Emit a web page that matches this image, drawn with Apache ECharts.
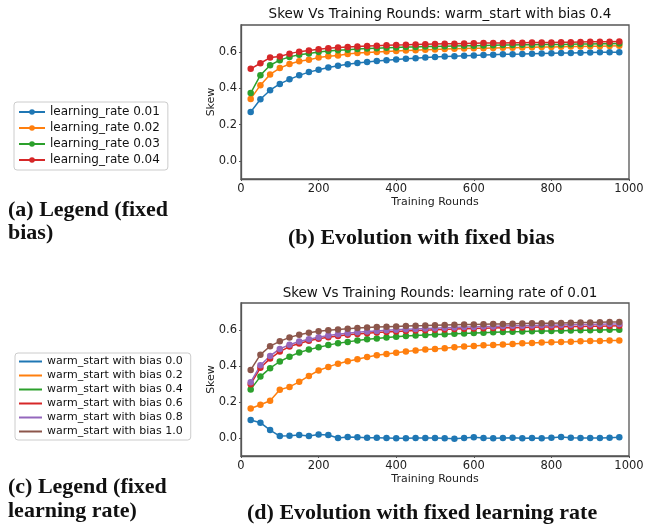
<!DOCTYPE html>
<html lang="en">
  <head>
    <meta charset="UTF-8" />
    <title>Skew Vs Training Rounds</title>
    <style>
      * {
        margin: 0;
        padding: 0;
      }
      html,
      body {
        width: 100%;
        height: 100%;
        background: #fff;
      }
      #chart {
        width: 655px;
        height: 525px;
      }
    </style>
    <script src="https://cdn.jsdelivr.net/npm/echarts@6/dist/echarts.min.js"></script>
  </head>
  <body>
    <div id="chart"></div>
    <script>
      // training rounds on the x axis
      var rounds = [
        25, 50, 75, 100, 125, 150, 175, 200, 225, 250, 275, 300, 325, 350, 375,
        400, 425, 450, 475, 500, 525, 550, 575, 600, 625, 650, 675, 700, 725,
        750, 775, 800, 825, 850, 875, 900, 925, 950, 975,
      ];
      var yTicks = [0, 0.2, 0.4, 0.6];

      // (b) fixed bias 0.4, varying learning rate
      var lrNames = [
        "learning_rate 0.01",
        "learning_rate 0.02",
        "learning_rate 0.03",
        "learning_rate 0.04",
      ];
      var lr001 = [
        0.27, 0.34, 0.39, 0.425, 0.45, 0.472, 0.49, 0.503, 0.515, 0.525, 0.533,
        0.54, 0.546, 0.551, 0.556, 0.56, 0.564, 0.567, 0.57, 0.573, 0.576,
        0.578, 0.58, 0.582, 0.584, 0.586, 0.588, 0.589, 0.59, 0.592, 0.593,
        0.594, 0.595, 0.596, 0.597, 0.598, 0.599, 0.6, 0.6,
      ];
      var lr002 = [
        0.342, 0.418, 0.477, 0.512, 0.535, 0.55, 0.558, 0.57, 0.577, 0.582,
        0.59, 0.595, 0.598, 0.601, 0.604, 0.607, 0.609, 0.611, 0.613, 0.615,
        0.617, 0.619, 0.62, 0.621, 0.622, 0.623, 0.624, 0.625, 0.626, 0.627,
        0.628, 0.629, 0.63, 0.631, 0.632, 0.633, 0.633, 0.634, 0.635,
      ];
      var lr003 = [
        0.374, 0.473, 0.528, 0.556, 0.574, 0.586, 0.593, 0.601, 0.606, 0.61,
        0.614, 0.617, 0.62, 0.622, 0.624, 0.626, 0.628, 0.629, 0.631, 0.632,
        0.633, 0.634, 0.635, 0.636, 0.637, 0.638, 0.639, 0.64, 0.641, 0.641,
        0.642, 0.643, 0.643, 0.644, 0.645, 0.645, 0.646, 0.647, 0.648,
      ];
      var lr004 = [
        0.508, 0.539, 0.57, 0.576, 0.592, 0.603, 0.609, 0.616, 0.622, 0.626,
        0.629, 0.632, 0.634, 0.636, 0.638, 0.64, 0.641, 0.643, 0.644, 0.645,
        0.646, 0.647, 0.648, 0.649, 0.65, 0.65, 0.651, 0.652, 0.652, 0.653,
        0.654, 0.654, 0.655, 0.655, 0.656, 0.657, 0.657, 0.658, 0.659,
      ];

      // (d) fixed learning rate 0.01, varying warm start bias
      var biasNames = [
        "warm_start with bias 0.0",
        "warm_start with bias 0.2",
        "warm_start with bias 0.4",
        "warm_start with bias 0.6",
        "warm_start with bias 0.8",
        "warm_start with bias 1.0",
      ];
      var bias00 = [
        0.1, 0.085, 0.044, 0.011, 0.013, 0.017, 0.011, 0.02, 0.017, 0.0, 0.005,
        0.004, 0.002, 0.002, 0.0, -0.002, -0.002, 0.0, 0.0, 0.0, -0.002,
        -0.004, 0.0, 0.004, 0.0, -0.002, 0.0, 0.002, -0.002, 0.0, -0.002,
        0.002, 0.006, 0.002, 0.0, 0.0, 0.0, 0.002, 0.004,
      ];
      var bias02 = [
        0.164, 0.185, 0.207, 0.268, 0.284, 0.312, 0.345, 0.375, 0.395, 0.413,
        0.426, 0.437, 0.45, 0.46, 0.467, 0.473, 0.48, 0.486, 0.491, 0.495,
        0.498, 0.504, 0.508, 0.511, 0.515, 0.517, 0.52, 0.522, 0.526, 0.528,
        0.53, 0.532, 0.534, 0.535, 0.537, 0.539, 0.539, 0.541, 0.541,
      ];
      var bias04 = [
        0.27, 0.341, 0.388, 0.425, 0.452, 0.475, 0.491, 0.504, 0.516, 0.527,
        0.534, 0.542, 0.548, 0.553, 0.558, 0.562, 0.566, 0.569, 0.572, 0.575,
        0.577, 0.579, 0.581, 0.583, 0.585, 0.587, 0.589, 0.59, 0.591, 0.593,
        0.594, 0.595, 0.596, 0.597, 0.598, 0.599, 0.6, 0.601, 0.602,
      ];
      var bias06 = [
        0.299, 0.39, 0.441, 0.48, 0.508, 0.525, 0.54, 0.551, 0.56, 0.567,
        0.573, 0.578, 0.582, 0.586, 0.589, 0.592, 0.595, 0.597, 0.599, 0.601,
        0.603, 0.605, 0.607, 0.608, 0.61, 0.611, 0.612, 0.613, 0.614, 0.615,
        0.616, 0.617, 0.618, 0.619, 0.62, 0.621, 0.621, 0.622, 0.623,
      ];
      var bias08 = [
        0.31, 0.404, 0.456, 0.495, 0.518, 0.536, 0.549, 0.56, 0.569, 0.576,
        0.582, 0.587, 0.591, 0.595, 0.598, 0.601, 0.604, 0.606, 0.608, 0.61,
        0.612, 0.614, 0.616, 0.617, 0.619, 0.62, 0.622, 0.623, 0.624, 0.625,
        0.626, 0.627, 0.628, 0.629, 0.63, 0.631, 0.632, 0.633, 0.634,
      ];
      var bias10 = [
        0.378, 0.463, 0.51, 0.537, 0.559, 0.574, 0.585, 0.593, 0.598, 0.603,
        0.607, 0.611, 0.614, 0.616, 0.618, 0.62, 0.622, 0.624, 0.625, 0.627,
        0.628, 0.629, 0.63, 0.631, 0.632, 0.633, 0.634, 0.635, 0.636, 0.637,
        0.637, 0.638, 0.639, 0.64, 0.641, 0.642, 0.643, 0.644, 0.645,
      ];

      // matplotlib tab10
      var colors = ["#1f77b4", "#ff7f0e", "#2ca02c", "#d62728", "#9467bd", "#8c564b"];
      var sans = "DejaVu Sans";
      var serif = "Liberation Serif";
      var frame = "#555";

      var pairs = function (ys) {
        return rounds.map(function (x, i) {
          return [x, ys[i]];
        });
      };

      var makeSeries = function (name, ys, idx, color) {
        return {
          name: name,
          type: "line",
          xAxisIndex: idx,
          yAxisIndex: idx,
          data: pairs(ys),
          color: color,
          symbol: "circle",
          symbolSize: 6.5,
          lineStyle: { width: 1.5 },
          itemStyle: { borderWidth: 0 },
          emphasis: { disabled: true },
          z: 3,
        };
      };

      var xAxis = function (idx) {
        return {
          type: "value",
          gridIndex: idx,
          min: 0,
          max: 1000,
          interval: 200,
          name: "Training Rounds",
          nameLocation: "middle",
          nameGap: 18,
          nameMoveOverlap: false,
          nameTextStyle: { fontFamily: sans, fontSize: 11, color: "#222" },
          axisLine: { show: true, onZero: false, lineStyle: { color: frame, width: 1.3 } },
          axisTick: { show: true, length: 2, lineStyle: { color: frame } },
          axisLabel: {
            fontFamily: sans,
            fontSize: 11.5,
            color: "#222",
            margin: 4,
            formatter: function (v) {
              return String(v);
            },
          },
          splitLine: { show: false },
        };
      };

      var yAxis = function (idx) {
        return {
          type: "value",
          gridIndex: idx,
          min: -0.1,
          max: 0.75,
          name: "Skew",
          nameLocation: "middle",
          nameGap: 24,
          nameMoveOverlap: false,
          nameRotate: 90,
          nameTextStyle: { fontFamily: sans, fontSize: 11, color: "#222" },
          axisLine: { show: true, onZero: false, lineStyle: { color: frame, width: 1.3 } },
          axisTick: {
            show: true,
            length: 2,
            customValues: yTicks,
            lineStyle: { color: frame },
          },
          axisLabel: {
            fontFamily: sans,
            fontSize: 11.5,
            color: "#222",
            margin: 4,
            customValues: yTicks,
            formatter: function (v) {
              return v.toFixed(1);
            },
          },
          splitLine: { show: false },
        };
      };

      var topData = [lr001, lr002, lr003, lr004];
      var bottomData = [bias00, bias02, bias04, bias06, bias08, bias10];
      var series = [];
      topData.forEach(function (ys, i) {
        series.push(makeSeries(lrNames[i], ys, 0, colors[i]));
      });
      bottomData.forEach(function (ys, i) {
        series.push(makeSeries(biasNames[i], ys, 1, colors[i]));
      });

      var option = {
        animation: false,
        backgroundColor: "#fff",
        title: [
          {
            text: "Skew Vs Training Rounds: warm_start with bias 0.4",
            left: 435,
            top: 2,
            textAlign: "center",
            textStyle: { fontFamily: sans, fontSize: 13.5, fontWeight: "normal", color: "#111" },
          },
          {
            text: "Skew Vs Training Rounds: learning rate of 0.01",
            left: 435,
            top: 281,
            textAlign: "center",
            textStyle: { fontFamily: sans, fontSize: 13.5, fontWeight: "normal", color: "#111" },
          },
        ],
        legend: [
          {
            data: lrNames,
            orient: "vertical",
            left: 14,
            top: 102,
            itemWidth: 26,
            itemHeight: 7,
            itemGap: 4,
            padding: [4, 8, 4, 4],
            borderColor: "#ccc",
            borderWidth: 1,
            borderRadius: 3,
            textStyle: { fontFamily: sans, fontSize: 12, color: "#111" },
          },
          {
            data: biasNames,
            orient: "vertical",
            left: 15,
            top: 353,
            icon: "rect",
            itemWidth: 23,
            itemHeight: 2,
            itemGap: 3,
            padding: [3, 8, 3, 4],
            borderColor: "#ccc",
            borderWidth: 1,
            borderRadius: 3,
            textStyle: { fontFamily: sans, fontSize: 11, color: "#111" },
          },
        ],
        grid: [
          {
            left: 241,
            top: 25,
            width: 388,
            height: 154,
            show: true,
            borderColor: frame,
            borderWidth: 1.3,
            backgroundColor: "transparent",
          },
          {
            left: 241,
            top: 303,
            width: 388,
            height: 153,
            show: true,
            borderColor: frame,
            borderWidth: 1.3,
            backgroundColor: "transparent",
          },
        ],
        xAxis: [xAxis(0), xAxis(1)],
        yAxis: [yAxis(0), yAxis(1)],
        graphic: [
          {
            type: "text",
            left: 8,
            top: 199,
            style: {
              text: "(a) Legend (fixed\nbias)",
              font: "bold 22px " + serif,
              lineHeight: 23,
              fill: "#111",
            },
          },
          {
            type: "text",
            left: 8,
            top: 475,
            style: {
              text: "(c) Legend (fixed\nlearning rate)",
              font: "bold 22px " + serif,
              lineHeight: 24,
              fill: "#111",
            },
          },
          {
            type: "text",
            left: 288,
            top: 227,
            style: {
              text: "(b) Evolution with fixed bias",
              font: "bold 22px " + serif,
              fill: "#111",
            },
          },
          {
            type: "text",
            left: 247,
            top: 502,
            style: {
              text: "(d) Evolution with fixed learning rate",
              font: "bold 22px " + serif,
              fill: "#111",
            },
          },
        ],
        series: series,
      };

      var myChart = echarts.init(document.getElementById("chart"));
      myChart.setOption(option);
    </script>
  </body>
</html>
